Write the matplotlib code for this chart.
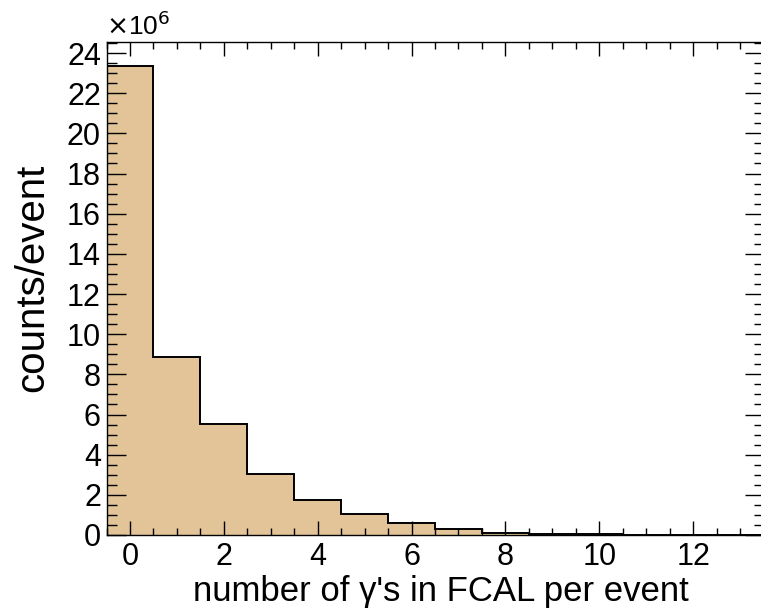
import matplotlib
matplotlib.use("Agg")
import matplotlib.pyplot as plt
import numpy as np
from matplotlib.ticker import MultipleLocator

plt.rcParams['font.family'] = ['Liberation Sans', 'DejaVu Sans']

# data (counts in units of 1e6), one bin per integer number of photons
n_gamma = [0, 1, 2, 3, 4, 5, 6, 7, 8, 9, 10, 11, 12, 13]
counts = [23.35, 8.85, 5.55, 3.05, 1.75, 1.05, 0.6, 0.3, 0.12, 0.06, 0.03, 0.02, 0.0, 0.0]

xlabel = "number of γ's in FCAL per event"
ylabel = "counts/event"

fill = "#E3C498"

fig = plt.figure(figsize=(7.61, 6.13), dpi=100)
ax = fig.add_axes([106.5/761, 78/613, 657/761, 493/613])

edges = np.concatenate([np.array(n_gamma) - 0.5, [n_gamma[-1] + 0.5]])
vals = np.array(counts)
ax.stairs(vals, edges, fill=True, color=fill, linewidth=0)
ax.stairs(vals, edges, color='black', linewidth=1.4, baseline=0)

ax.set_xlim(-0.5, 13.5)
ax.set_ylim(0, 24.55)

ax.xaxis.set_major_locator(MultipleLocator(2))
ax.xaxis.set_minor_locator(MultipleLocator(0.5))
ax.yaxis.set_major_locator(MultipleLocator(2))
ax.yaxis.set_minor_locator(MultipleLocator(0.5))

ax.tick_params(axis='both', which='both', direction='in', top=True, right=True,
               width=1.0, colors='black', labelsize=22)
ax.tick_params(axis='x', which='major', length=10, pad=5)
ax.tick_params(axis='x', which='minor', length=5)
ax.tick_params(axis='y', which='major', length=14, pad=4)
ax.tick_params(axis='y', which='minor', length=7)

for s in ax.spines.values():
    s.set_linewidth(1.0)

fig.text(441/761, 1 - 592/613, xlabel, ha='center', va='center', fontsize=25)
fig.text(32/761, 1 - 278/613, ylabel, ha='center', va='center', rotation=90, fontsize=29)
fig.text(106/761, 1 - 26/613, r"$\times$10$^{6}$", ha='left', va='center', fontsize=19)

fig.savefig("out.png", dpi=100)
